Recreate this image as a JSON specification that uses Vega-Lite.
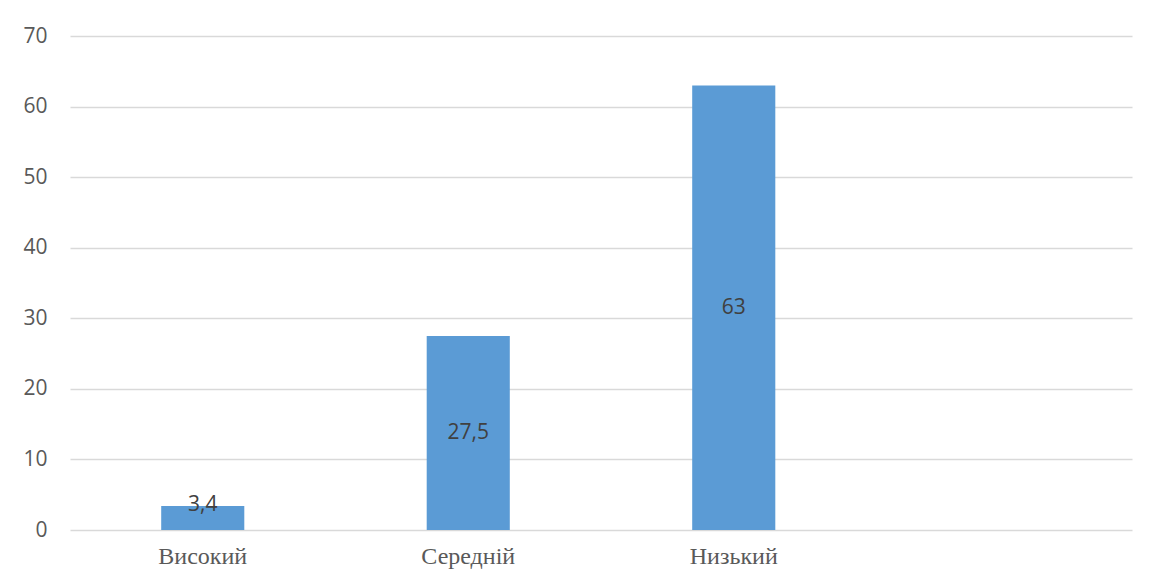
{
  "$schema": "https://vega.github.io/schema/vega-lite/v6.json",
  "autosize": {"type": "none"},
  "width": 1062,
  "height": 494,
  "padding": {"left": 70, "top": 36, "right": 29, "bottom": 54},
  "background": "white",
  "config": {"view": {"stroke": null}},
  "data": {"values": [
    {"level": "Високий", "value": 3.4, "label": "3,4"},
    {"level": "Середній", "value": 27.5, "label": "27,5"},
    {"level": "Низький", "value": 63, "label": "63"}
  ]},
  "encoding": {
    "x": {
      "field": "level", "type": "nominal", "sort": null,
      "scale": {"domain": ["Високий", "Середній", "Низький", " "], "paddingInner": 0.687, "paddingOuter": 0.3435},
      "axis": {"title": null, "domain": false, "ticks": false, "labelAngle": 0, "labelFont": "Liberation Serif", "labelFontSize": 24, "labelColor": "#595959", "labelPadding": 14, "grid": false}
    }
  },
  "layer": [
    {
      "mark": {"type": "bar", "color": "#5B9BD5"},
      "encoding": {
        "y": {
          "field": "value", "type": "quantitative",
          "scale": {"domain": [0, 70], "nice": false},
          "axis": {"title": null, "domain": false, "ticks": false, "values": [0, 10, 20, 30, 40, 50, 60, 70], "labelFont": "Open Sans", "labelFontSize": 21, "labelColor": "#595959", "labelPadding": 23, "gridColor": "#d9d9d9", "gridWidth": 1.5}
        }
      }
    },
    {
      "transform": [{"calculate": "datum.value < 5 ? datum.value + 0.15 : datum.value / 2", "as": "mid"}],
      "mark": {"type": "text", "font": "Open Sans", "fontSize": 21, "color": "#404040", "baseline": "middle", "align": "center"},
      "encoding": {
        "y": {"field": "mid", "type": "quantitative"},
        "text": {"field": "label"}
      }
    }
  ]
}
